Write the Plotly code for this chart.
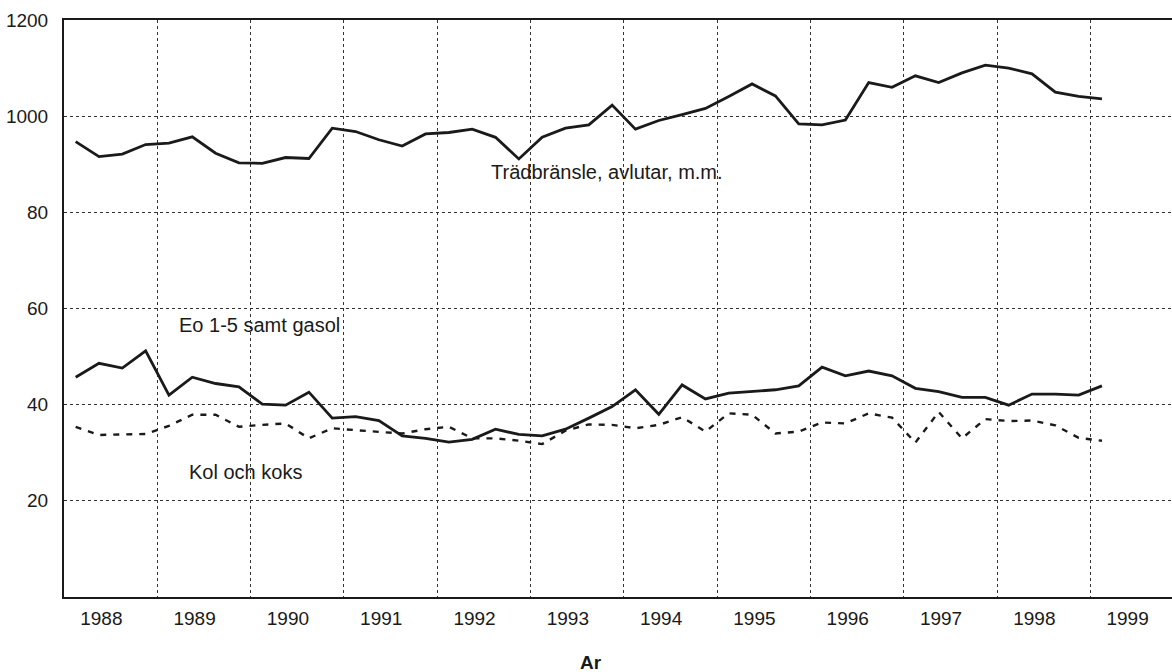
import plotly.graph_objects as go

# Quarterly series, 1988 Q1 .. 1999 Q1 (values in axis units)
start_year = 1988
n_quarters = 45

tradbransle = [94.7, 91.6, 92.1, 94.1, 94.4, 95.7, 92.3, 90.3, 90.2, 91.4, 91.2, 97.5,
               96.8, 95.1, 93.8, 96.3, 96.6, 97.3, 95.6, 91.1, 95.6, 97.5, 98.2, 102.3,
               97.3, 99.1, 100.3, 101.6, 104.1, 106.7, 104.2, 98.4, 98.2, 99.2, 107.0, 106.0,
               108.4, 107.0, 109.0, 110.6, 110.0, 108.8, 105.0, 104.1, 103.6]

eo_gasol = [45.7, 48.6, 47.6, 51.2, 42.0, 45.7, 44.4, 43.7, 40.1, 39.9, 42.6, 37.2,
            37.5, 36.7, 33.5, 33.0, 32.2, 32.8, 34.9, 33.8, 33.5, 34.9, 37.2, 39.6,
            43.1, 38.0, 44.1, 41.2, 42.4, 42.8, 43.1, 43.9, 47.8, 46.0, 47.0, 46.0,
            43.4, 42.7, 41.5, 41.5, 39.9, 42.2, 42.2, 42.0, 43.9]

kol_koks = [35.4, 33.7, 33.8, 33.9, 35.6, 37.9, 37.9, 35.4, 35.8, 36.1, 33.0, 35.1,
            34.7, 34.4, 34.0, 34.9, 35.4, 33.0, 33.0, 32.5, 31.8, 34.6, 35.9, 35.8,
            35.1, 35.8, 37.4, 34.4, 38.2, 37.9, 34.0, 34.4, 36.3, 36.1, 38.2, 37.3,
            32.1, 38.5, 33.0, 37.0, 36.6, 36.7, 35.7, 33.1, 32.5]

year_labels = ["1988", "1989", "1990", "1991", "1992", "1993", "1994",
               "1995", "1996", "1997", "1998", "1999"]
y_tickvals = [20, 40, 60, 80, 100, 120]
y_ticktext = ["20", "40", "60", "80", "1000", "1200"]

x = [start_year + (i + 0.5) / 4 for i in range(n_quarters)]
years = [int(v) for v in year_labels]

FONT = "Liberation Sans, Arial, sans-serif"
INK = "#1a1a1a"

fig = go.Figure()
fig.add_trace(go.Scatter(x=x, y=tradbransle, mode="lines",
                         line=dict(color=INK, width=2.8), name="Trädbränsle"))
fig.add_trace(go.Scatter(x=x, y=eo_gasol, mode="lines",
                         line=dict(color=INK, width=2.8), name="Eo 1-5"))
fig.add_trace(go.Scatter(x=x, y=kol_koks, mode="lines",
                         line=dict(color=INK, width=2.4, dash="6px,7px"), name="Kol"))

fig.add_annotation(x=1993.82, y=88.3, text="Trädbränsle, avlutar, m.m.", showarrow=False,
                   font=dict(family=FONT, size=20, color=INK))
fig.add_annotation(x=1990.10, y=56.6, text="Eo 1-5 samt gasol", showarrow=False,
                   font=dict(family=FONT, size=20, color=INK))
fig.add_annotation(x=1989.94, y=25.9, text="Kol och koks", showarrow=False,
                   font=dict(family=FONT, size=20, color=INK))
fig.add_annotation(xref="paper", yref="paper", x=0.4756, y=-0.1127, text="<b>Ar</b>",
                   showarrow=False, yanchor="middle",
                   font=dict(family=FONT, size=19, color=INK))

fig.update_layout(
    width=1172, height=672, autosize=False,
    margin=dict(l=64, r=0, t=20, b=75),
    paper_bgcolor="white", plot_bgcolor="white",
    showlegend=False,
    font=dict(family=FONT, size=19, color=INK),
    xaxis=dict(
        range=[1988, 1988 + 1108 / 93.3],
        tickmode="array",
        tickvals=[y + 0.40 for y in years],
        ticktext=year_labels,
        showgrid=False, zeroline=False,
        showline=True, linecolor=INK, linewidth=2, mirror=True,
        ticks="outside", ticklen=3, tickcolor="rgba(0,0,0,0)",
        minor=dict(tickmode="array", tickvals=years[1:], showgrid=True,
                   gridcolor="#333333", gridwidth=1.2, griddash="dot", ticks=""),
        tickfont=dict(family=FONT, size=19, color=INK),
    ),
    yaxis=dict(
        range=[0, 120],
        tickmode="array", tickvals=y_tickvals, ticktext=y_ticktext,
        showgrid=True, gridcolor="#333333", gridwidth=1.2, griddash="dot",
        zeroline=False,
        showline=True, linecolor=INK, linewidth=2,
        ticks="outside", ticklen=10, tickcolor="rgba(0,0,0,0)",
        tickfont=dict(family=FONT, size=19, color=INK),
    ),
)

fig.write_html("out.html", config={"displayModeBar": False},
               post_script="document.body.style.margin='0';document.body.style.overflow='hidden';")
